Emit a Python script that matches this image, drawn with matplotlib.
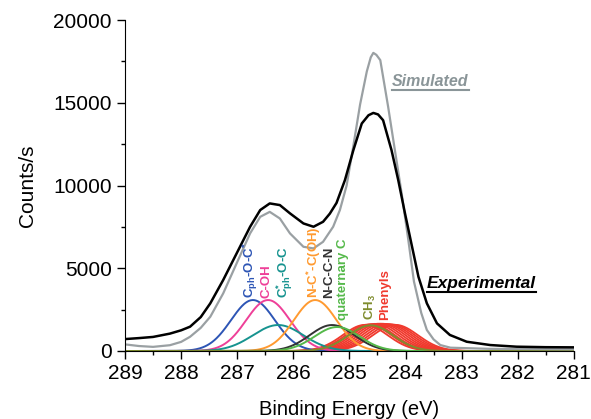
import numpy as np
import matplotlib
matplotlib.use("Agg")
import matplotlib.pyplot as plt
from matplotlib.lines import Line2D

plt.rcParams['font.family'] = ['Liberation Sans', 'DejaVu Sans']
plt.rcParams['mathtext.fontset'] = 'custom'
plt.rcParams['mathtext.rm'] = 'Liberation Sans:bold'
plt.rcParams['mathtext.it'] = 'Liberation Sans:bold'
plt.rcParams['mathtext.bf'] = 'Liberation Sans:bold'
plt.rcParams['mathtext.default'] = 'rm'

# measured spectrum (eV, counts/s)
exp_e = [289.0, 288.75, 288.5, 288.2, 288.0, 287.84, 287.65, 287.48, 287.25, 287.01, 286.77,
         286.59, 286.42, 286.24, 286.06, 285.82, 285.64, 285.47, 285.35, 285.23, 285.08,
         284.93, 284.78, 284.66, 284.574, 284.49, 284.40, 284.25, 284.13, 284.01, 283.89,
         283.77, 283.62, 283.44, 283.21, 282.91, 282.49, 282.02, 281.5, 281.0]
exp_c = [720, 780, 850, 1050, 1250, 1470, 2050, 2880, 4290, 5900, 7510,
         8520, 8920, 8820, 8320, 7710, 7510, 7810, 8300, 8950, 10330,
         12140, 13750, 14250, 14390, 14300, 13950, 12140, 10330, 8320, 6400,
         4490, 2880, 1670, 970, 560, 360, 260, 230, 220]

# simulated spectrum
sim_e = [289.0, 288.75, 288.5, 288.2, 288.0, 287.84, 287.65, 287.48, 287.25, 287.01, 286.77,
         286.59, 286.42, 286.24, 286.06, 285.82, 285.64, 285.47, 285.29, 285.17, 285.05,
         284.93, 284.81, 284.69, 284.62, 284.574, 284.52, 284.45, 284.31, 284.19, 284.07,
         283.95, 283.85, 283.72, 283.62, 283.50, 283.38, 283.2, 282.5, 281.0]
sim_c = [400, 300, 250, 350, 550, 860, 1400, 2070, 3480, 5300, 7110,
         8110, 8410, 8010, 7110, 6300, 6200, 6600, 7510, 8520, 10000,
         12400, 14900, 16900, 17750, 18020, 17900, 17580, 14760, 12140, 9540,
         6700, 4200, 2300, 1270, 700, 360, 200, 130, 100]

# fitted components: centre (eV), height, sigma (eV), colour
comp_names = ['C_ph-O-C*', 'C-OH', 'C_ph*-O-C', 'N-C*-C(OH)', 'N-C-C-N',
              'quaternary C', 'CH3']
comp_center = [286.72, 286.45, 286.27, 285.61, 285.31, 285.22, 284.62]
comp_height = [3080, 3080, 1570, 3080, 1570, 1450, 1550]
comp_sigma = [0.39, 0.39, 0.45, 0.38, 0.40, 0.40, 0.40]
comp_color = ['#2d55b5', '#ee3f98', '#16938f', '#ff9a30', '#333333',
              '#55b94a', '#7f8c2e']

# phenyl components (band of red peaks)
phen_center = [284.72, 284.66, 284.60, 284.54, 284.48, 284.42, 284.36, 284.30, 284.24, 284.18]
phen_height = [1580, 1600, 1620, 1640, 1650, 1650, 1640, 1620, 1600, 1580]
phen_sigma = 0.40

fig = plt.figure(figsize=(5.91, 4.19), dpi=100)
ax = fig.add_axes([0.2115, 0.1623, 0.7595, 0.7897])

e = np.linspace(289, 281, 800)
for c, h in zip(phen_center, phen_height):
    ax.plot(e, h * np.exp(-0.5 * ((e - c) / phen_sigma) ** 2), color='#f03a2e', lw=1.3)
for c, h, s, col in zip(comp_center, comp_height, comp_sigma, comp_color):
    ax.plot(e, h * np.exp(-0.5 * ((e - c) / s) ** 2), color=col, lw=1.4)

ax.plot(sim_e, sim_c, color='#9aa0a3', lw=1.6, solid_joinstyle='round')
ax.plot(exp_e, exp_c, color='black', lw=1.8, solid_joinstyle='round')

ax.set_xlim(289, 281)
ax.set_ylim(0, 20000)
ax.set_xticks(np.arange(289, 280, -1))
ax.set_xticks(np.arange(288.5, 281, -1), minor=True)
ax.set_yticks([0, 5000, 10000, 15000, 20000])
ax.set_yticks([2500, 7500, 12500, 17500], minor=True)
ax.tick_params(which='both', direction='out', labelsize=15, width=1)
ax.tick_params(which='major', length=6)
ax.tick_params(which='minor', length=3)
for s in ['top', 'right']:
    ax.spines[s].set_visible(False)
ax.set_xlabel('Binding Energy (eV)', fontsize=14.5, labelpad=12)
ax.set_ylabel('Counts/s', fontsize=15, labelpad=12)

# peak labels (data coords, rotated)
lab_kw = dict(rotation=90, fontsize=9.5, fontweight='bold', ha='center', va='bottom')
labels = [
    (r'C$_{ph}$-O-C$^{*}$', 286.77, 3200, comp_color[0]),
    ('C-OH', 286.48, 3200, comp_color[1]),
    (r'C$_{ph}^{*}$-O-C', 286.16, 3200, comp_color[2]),
    (r'N-C$^{*}$-C(OH)', 285.64, 3200, comp_color[3]),
    ('N-C-C-N', 285.37, 3200, comp_color[4]),
    ('quaternary C', 285.12, 1900, comp_color[5]),
    (r'CH$_{3}$', 284.63, 1900, comp_color[6]),
    ('Phenyls', 284.37, 1900, '#f03a2e'),
]
for txt, x, y, col in labels:
    ax.text(x, y, txt, color=col, **lab_kw)

t1 = ax.text(284.24, 16300, 'Simulated', color='#8a9598', fontsize=11.5,
             fontweight='bold', style='italic', ha='left', va='center')
t2 = ax.text(283.62, 4100, 'Experimental', color='black', fontsize=12.5,
             fontweight='bold', style='italic', ha='left', va='center')

fig.canvas.draw()
inv = fig.transFigure.inverted()
for t, col in [(t1, '#8a9598'), (t2, 'black')]:
    bb = t.get_window_extent()
    (x0, y0), (x1, _) = inv.transform([(bb.x0, bb.y0 - 1), (bb.x1, bb.y0)])
    fig.add_artist(Line2D([x0, x1], [y0, y0], color=col, lw=1.5, transform=fig.transFigure))

fig.savefig('out.png', dpi=100)
